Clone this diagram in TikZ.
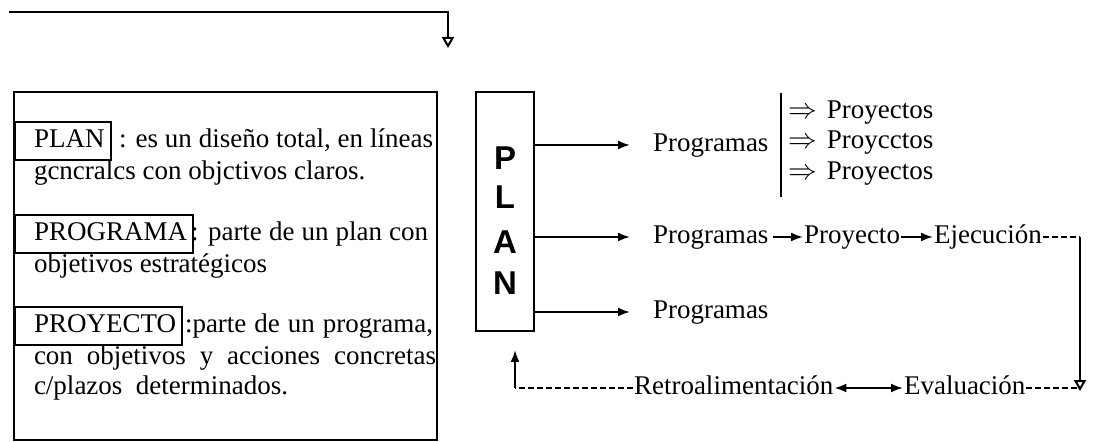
\documentclass[tikz,border=0pt]{standalone}
\usepackage{fontspec}
\setmainfont{Liberation Serif}
\newfontfamily\plansf{Liberation Sans}
\usetikzlibrary{arrows.meta}
\tikzset{>={Latex[length=6pt,width=4.5pt]}}
\tikzstyle{txt} = [inner sep=0, font=\fontsize{13.5}{15}\selectfont, text height=9.5pt, text depth=2.7pt]
\tikzstyle{kw} = [txt, draw, inner xsep=3pt, minimum height=19pt]
\tikzstyle{dsh} = [dash pattern=on 3pt off 1.5pt]
\tikzstyle{tri} = [-{Triangle[open, length=5.5pt, width=6pt]}]

\begin{document}
\begin{tikzpicture}[x=0.5pt, y=-0.5pt, line width=1pt]
\useasboundingbox (0,0) rectangle (1095,442);
% line coming from above
\coordinate (top0) at (9,12);
\coordinate (top1) at (448,12);
\coordinate (top2) at (448,48);
\draw [tri] (top0) -- (top1) -- (top2);

% definitions
\node [draw, inner sep=0, minimum width=211.5pt, minimum height=174pt] (defbox) at (225.5,266) {};
\node [kw, anchor=west] (kwplan) at (14,141) {\hspace*{6.5pt}PLAN};
\node [txt, anchor=west] (defplan) at (118,141) {\makebox[157pt][s]{: es un diseño total, en líneas}};
\node [txt, anchor=west] (defplanb) at (33,173) {gcncralcs con objctivos claros.};
\node [kw, anchor=west] (kwprog) at (14,234) {\hspace*{6.5pt}PROGRAMA};
\node [txt, anchor=west] (defprog) at (190,234) {\makebox[118.5pt][s]{: parte de un plan con}};
\node [txt, anchor=west] (defprogb) at (33,266) {objetivos estratégicos};
\node [kw, anchor=west] (kwproy) at (14,326) {\hspace*{6.5pt}PROYECTO};
\node [txt, anchor=west] (defproy) at (184,326) {\makebox[124pt][s]{:parte de un programa,}};
\node [txt, anchor=west] (defproyb) at (33,358) {\makebox[201pt][s]{con objetivos y acciones concretas}};
\node [txt, anchor=west] (defproyc) at (33,388) {c/plazos\ \ determinados.};

% PLAN column
\node [draw, minimum width=29pt, minimum height=119.5pt] (planbox) at (505,211.5) {};
\foreach \l/\y in {P/158, L/197, A/242, N/283}
  \node [inner sep=0, font=\plansf\bfseries\fontsize{16.5}{16.5}\selectfont] (let\l) at (505,\y) {\l};

\foreach \i/\y in {1/145, 2/237, 3/312}{
  \node [txt, anchor=west] (prog\i) at (652,\y) {Programas};
  \draw [->, shorten >=11pt] (planbox.east |- prog\i.west) -- (prog\i.west);
}

% projects of the first programme
\coordinate (bar0) at (781,93);
\coordinate (bar1) at (781,197);
\draw (bar0) -- (bar1);
\foreach \i/\y/\t in {1/112/Proyectos, 2/142/Proycctos, 3/173/Proyectos}
  \node [txt, anchor=west] (proy\i) at (787,\y) {$\Rightarrow$\hspace{5pt}\t};

% second programme
\node [txt, anchor=west] (proyecto) at (803,237) {Proyecto};
\node [txt, anchor=west] (ejec) at (933,237) {Ejecución};
\draw [->, shorten <=2pt] (prog2.east) -- (proyecto.west);
\draw [->] (proyecto.east) -- (ejec.west);
\coordinate (ejcorner) at (1080,237);
\coordinate (evcorner) at (1080,391);
\draw [dsh] (ejec.east) -- (ejcorner);
\draw [tri] (ejcorner) -- (evcorner);

% feedback
\node [txt, anchor=west] (retro) at (633,388) {Retroalimentación};
\node [txt, anchor=west] (eval) at (903,388) {Evaluación};
\draw [<->] (retro.east) -- (eval.west);
\draw [dsh] (eval.east) -- (evcorner |- eval.east);
\coordinate (retcorner) at (515,388);
\draw [dsh] (retro.west) -- (retcorner);
\draw [->, shorten >=9pt] (retcorner) -- (retcorner |- planbox.south);
\end{tikzpicture}
\end{document}
